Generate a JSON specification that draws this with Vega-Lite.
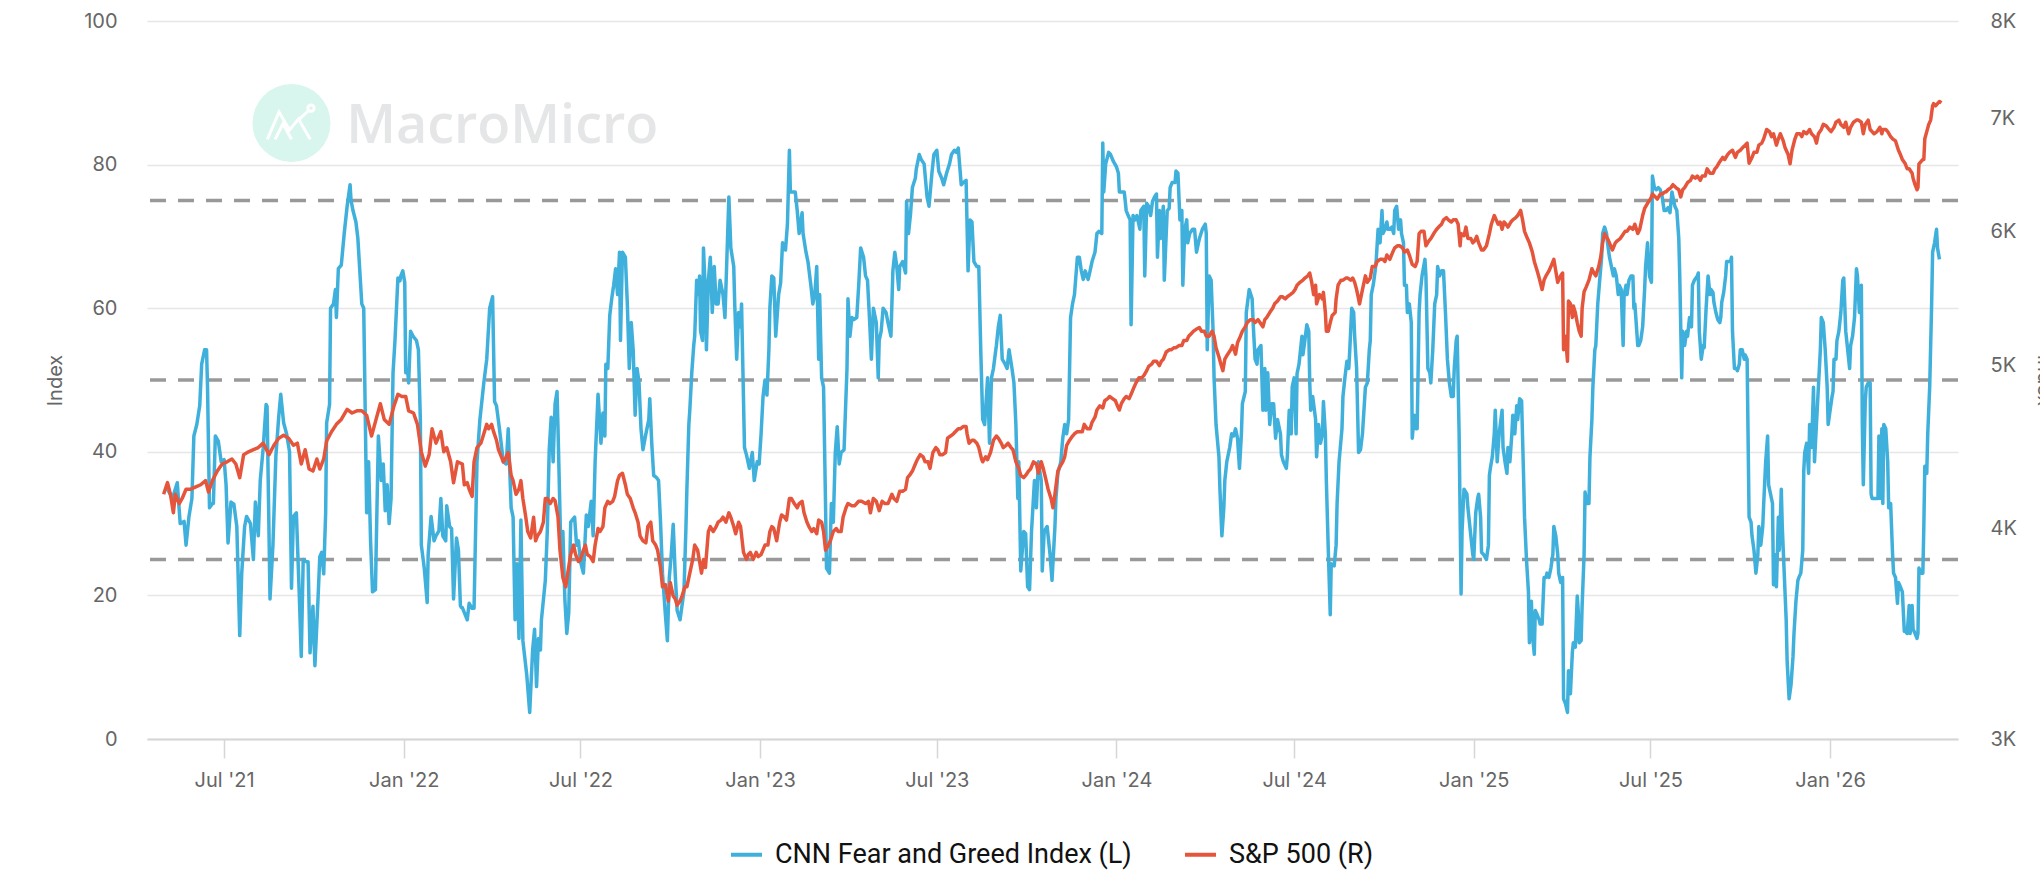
{
  "$schema": "https://vega.github.io/schema/vega-lite/v6.json",
  "width": 1811,
  "height": 718,
  "autosize": {"type": "none"},
  "padding": {"left": 147, "top": 21, "right": 82, "bottom": 135},
  "background": "white",
  "config": {
    "font": "Inter",
    "view": {"stroke": null}
  },
  "datasets": {
    "fg": [
      {"d":"2021-05-04","v":34.8},{"d":"2021-05-09","v":33.5},{"d":"2021-05-14","v":35.7},{"d":"2021-05-17","v":30.0},{"d":"2021-05-21","v":30.3},{"d":"2021-05-23","v":27.0},{"d":"2021-05-26","v":31.0},{"d":"2021-05-29","v":33.5},{"d":"2021-05-31","v":42.2},
      {"d":"2021-06-03","v":43.8},{"d":"2021-06-06","v":46.4},{"d":"2021-06-08","v":52.2},{"d":"2021-06-11","v":54.2},{"d":"2021-06-13","v":54.2},{"d":"2021-06-14","v":49.0},{"d":"2021-06-16","v":32.2},{"d":"2021-06-19","v":32.8},{"d":"2021-06-20","v":32.8},{"d":"2021-06-22","v":42.2},{"d":"2021-06-25","v":41.5},{"d":"2021-06-28","v":38.6},
      {"d":"2021-07-01","v":38.9},{"d":"2021-07-03","v":35.4},{"d":"2021-07-05","v":27.3},{"d":"2021-07-08","v":33.0},{"d":"2021-07-11","v":32.7},{"d":"2021-07-14","v":29.6},{"d":"2021-07-17","v":14.4},{"d":"2021-07-19","v":23.0},{"d":"2021-07-22","v":29.6},{"d":"2021-07-24","v":31.0},{"d":"2021-07-28","v":30.0},{"d":"2021-07-31","v":25.0},
      {"d":"2021-08-02","v":33.0},{"d":"2021-08-05","v":28.3},{"d":"2021-08-07","v":36.0},{"d":"2021-08-10","v":40.5},{"d":"2021-08-13","v":46.6},{"d":"2021-08-14","v":46.3},{"d":"2021-08-17","v":19.5},{"d":"2021-08-20","v":27.0},{"d":"2021-08-23","v":39.4},{"d":"2021-08-26","v":45.0},{"d":"2021-08-28","v":48.0},{"d":"2021-08-31","v":44.0},
      {"d":"2021-09-03","v":42.5},{"d":"2021-09-06","v":40.0},{"d":"2021-09-08","v":21.0},{"d":"2021-09-10","v":31.0},{"d":"2021-09-13","v":31.5},{"d":"2021-09-16","v":20.0},{"d":"2021-09-18","v":11.5},{"d":"2021-09-20","v":25.0},{"d":"2021-09-23","v":24.7},{"d":"2021-09-25","v":24.7},{"d":"2021-09-27","v":12.0},{"d":"2021-09-30","v":18.5},
      {"d":"2021-10-02","v":10.2},{"d":"2021-10-05","v":19.0},{"d":"2021-10-07","v":25.4},{"d":"2021-10-09","v":26.0},{"d":"2021-10-11","v":23.0},{"d":"2021-10-13","v":31.5},{"d":"2021-10-14","v":44.0},{"d":"2021-10-17","v":46.6},{"d":"2021-10-18","v":60.0},{"d":"2021-10-21","v":60.6},{"d":"2021-10-23","v":62.6},{"d":"2021-10-24","v":58.7},{"d":"2021-10-26","v":65.5},{"d":"2021-10-29","v":66.0},
      {"d":"2021-11-01","v":70.4},{"d":"2021-11-04","v":74.2},{"d":"2021-11-05","v":75.2},{"d":"2021-11-07","v":77.2},{"d":"2021-11-08","v":75.0},{"d":"2021-11-10","v":73.6},{"d":"2021-11-13","v":72.0},{"d":"2021-11-15","v":69.7},{"d":"2021-11-19","v":60.6},{"d":"2021-11-21","v":60.0},{"d":"2021-11-24","v":31.5},{"d":"2021-11-26","v":38.6},{"d":"2021-11-28","v":27.6},{"d":"2021-11-30","v":20.5},
      {"d":"2021-12-03","v":20.8},{"d":"2021-12-04","v":28.3},{"d":"2021-12-06","v":42.2},{"d":"2021-12-09","v":36.0},{"d":"2021-12-11","v":38.3},{"d":"2021-12-13","v":31.8},{"d":"2021-12-15","v":35.4},{"d":"2021-12-17","v":30.0},{"d":"2021-12-19","v":33.5},{"d":"2021-12-21","v":51.0},{"d":"2021-12-23","v":55.5},{"d":"2021-12-26","v":64.2},{"d":"2021-12-28","v":63.8},{"d":"2021-12-29","v":64.5},{"d":"2021-12-31","v":65.2},
      {"d":"2022-01-02","v":63.6},{"d":"2022-01-03","v":51.0},{"d":"2022-01-05","v":51.3},{"d":"2022-01-06","v":49.6},{"d":"2022-01-08","v":56.8},{"d":"2022-01-11","v":56.0},{"d":"2022-01-14","v":55.5},{"d":"2022-01-16","v":54.2},{"d":"2022-01-18","v":44.5},{"d":"2022-01-19","v":27.0},{"d":"2022-01-22","v":23.8},{"d":"2022-01-25","v":19.0},{"d":"2022-01-26","v":25.7},{"d":"2022-01-29","v":31.0},
      {"d":"2022-02-01","v":27.6},{"d":"2022-02-03","v":28.3},{"d":"2022-02-06","v":29.0},{"d":"2022-02-08","v":33.5},{"d":"2022-02-10","v":28.3},{"d":"2022-02-13","v":27.6},{"d":"2022-02-14","v":32.5},{"d":"2022-02-17","v":29.6},{"d":"2022-02-19","v":29.3},{"d":"2022-02-21","v":19.5},{"d":"2022-02-24","v":28.0},{"d":"2022-02-26","v":26.3},{"d":"2022-02-28","v":18.6},
      {"d":"2022-03-01","v":18.3},{"d":"2022-03-02","v":18.3},{"d":"2022-03-05","v":17.3},{"d":"2022-03-07","v":16.6},{"d":"2022-03-09","v":18.9},{"d":"2022-03-12","v":18.2},{"d":"2022-03-14","v":18.2},{"d":"2022-03-17","v":38.6},{"d":"2022-03-20","v":44.5},{"d":"2022-03-24","v":49.6},{"d":"2022-03-27","v":52.9},{"d":"2022-03-30","v":60.0},
      {"d":"2022-04-02","v":61.6},{"d":"2022-04-04","v":47.0},{"d":"2022-04-06","v":46.4},{"d":"2022-04-09","v":43.2},{"d":"2022-04-13","v":38.6},{"d":"2022-04-16","v":38.3},{"d":"2022-04-18","v":43.2},{"d":"2022-04-21","v":32.2},{"d":"2022-04-23","v":30.9},{"d":"2022-04-25","v":16.6},{"d":"2022-04-27","v":24.4},{"d":"2022-04-29","v":14.0},
      {"d":"2022-05-01","v":30.5},{"d":"2022-05-03","v":13.7},{"d":"2022-05-07","v":8.9},{"d":"2022-05-10","v":3.7},{"d":"2022-05-13","v":12.4},{"d":"2022-05-15","v":15.3},{"d":"2022-05-17","v":7.3},{"d":"2022-05-19","v":14.0},{"d":"2022-05-21","v":12.4},{"d":"2022-05-22","v":16.6},{"d":"2022-05-26","v":22.1},{"d":"2022-05-28","v":28.9},{"d":"2022-05-30","v":40.3},
      {"d":"2022-06-01","v":44.8},{"d":"2022-06-03","v":38.6},{"d":"2022-06-05","v":46.7},{"d":"2022-06-07","v":48.4},{"d":"2022-06-08","v":43.2},{"d":"2022-06-11","v":25.7},{"d":"2022-06-13","v":28.9},{"d":"2022-06-15","v":19.5},{"d":"2022-06-17","v":14.7},{"d":"2022-06-19","v":17.6},{"d":"2022-06-21","v":30.2},{"d":"2022-06-25","v":30.9},{"d":"2022-06-27","v":27.0},{"d":"2022-06-29","v":27.6},
      {"d":"2022-07-01","v":24.7},{"d":"2022-07-04","v":23.1},{"d":"2022-07-07","v":31.2},{"d":"2022-07-09","v":29.6},{"d":"2022-07-12","v":33.1},{"d":"2022-07-14","v":28.3},{"d":"2022-07-16","v":38.6},{"d":"2022-07-19","v":48.0},{"d":"2022-07-22","v":41.2},{"d":"2022-07-24","v":45.4},{"d":"2022-07-26","v":42.2},{"d":"2022-07-27","v":52.2},{"d":"2022-07-29","v":51.6},{"d":"2022-07-31","v":59.0},
      {"d":"2022-08-02","v":61.3},{"d":"2022-08-04","v":63.2},{"d":"2022-08-06","v":65.5},{"d":"2022-08-08","v":61.9},{"d":"2022-08-10","v":67.8},{"d":"2022-08-11","v":55.5},{"d":"2022-08-13","v":67.8},{"d":"2022-08-16","v":67.1},{"d":"2022-08-18","v":60.6},{"d":"2022-08-20","v":51.6},{"d":"2022-08-22","v":58.0},{"d":"2022-08-24","v":54.2},{"d":"2022-08-26","v":45.1},{"d":"2022-08-28","v":51.6},{"d":"2022-08-30","v":49.6},
      {"d":"2022-09-01","v":43.2},{"d":"2022-09-03","v":40.3},{"d":"2022-09-06","v":42.5},{"d":"2022-09-09","v":44.5},{"d":"2022-09-10","v":47.4},{"d":"2022-09-12","v":41.2},{"d":"2022-09-14","v":36.7},{"d":"2022-09-17","v":36.4},{"d":"2022-09-19","v":36.0},{"d":"2022-09-21","v":30.2},{"d":"2022-09-23","v":23.1},{"d":"2022-09-26","v":17.3},{"d":"2022-09-28","v":13.7},{"d":"2022-09-30","v":22.5},
      {"d":"2022-10-02","v":25.7},{"d":"2022-10-04","v":29.9},{"d":"2022-10-06","v":23.1},{"d":"2022-10-08","v":17.9},{"d":"2022-10-11","v":16.6},{"d":"2022-10-13","v":18.6},{"d":"2022-10-15","v":20.5},{"d":"2022-10-17","v":29.3},{"d":"2022-10-18","v":34.8},{"d":"2022-10-20","v":43.8},{"d":"2022-10-21","v":45.8},{"d":"2022-10-23","v":51.0},{"d":"2022-10-25","v":54.8},{"d":"2022-10-26","v":56.1},{"d":"2022-10-28","v":63.9},{"d":"2022-10-30","v":61.9},{"d":"2022-10-31","v":64.5},
      {"d":"2022-11-01","v":56.8},{"d":"2022-11-03","v":55.5},{"d":"2022-11-04","v":68.4},{"d":"2022-11-06","v":61.9},{"d":"2022-11-07","v":54.2},{"d":"2022-11-09","v":63.9},{"d":"2022-11-11","v":67.1},{"d":"2022-11-13","v":59.4},{"d":"2022-11-15","v":65.8},{"d":"2022-11-17","v":60.6},{"d":"2022-11-19","v":60.6},{"d":"2022-11-21","v":63.9},{"d":"2022-11-24","v":61.9},{"d":"2022-11-26","v":58.7},{"d":"2022-11-28","v":67.1},{"d":"2022-11-30","v":75.5},
      {"d":"2022-12-02","v":68.4},{"d":"2022-12-05","v":65.8},{"d":"2022-12-06","v":60.6},{"d":"2022-12-08","v":52.9},{"d":"2022-12-10","v":59.4},{"d":"2022-12-12","v":57.4},{"d":"2022-12-13","v":60.6},{"d":"2022-12-16","v":40.6},{"d":"2022-12-18","v":39.6},{"d":"2022-12-21","v":37.7},{"d":"2022-12-24","v":39.9},{"d":"2022-12-26","v":36.0},{"d":"2022-12-29","v":38.6},{"d":"2022-12-31","v":38.3},
      {"d":"2023-01-02","v":42.5},{"d":"2023-01-04","v":47.7},{"d":"2023-01-06","v":50.0},{"d":"2023-01-08","v":47.9},{"d":"2023-01-10","v":54.2},{"d":"2023-01-11","v":60.0},{"d":"2023-01-13","v":64.5},{"d":"2023-01-15","v":64.2},{"d":"2023-01-17","v":56.1},{"d":"2023-01-20","v":61.9},{"d":"2023-01-22","v":63.5},{"d":"2023-01-24","v":69.1},{"d":"2023-01-27","v":68.1},{"d":"2023-01-29","v":71.7},{"d":"2023-01-31","v":82.0},
      {"d":"2023-02-01","v":76.2},{"d":"2023-02-03","v":76.2},{"d":"2023-02-06","v":76.2},{"d":"2023-02-08","v":73.6},{"d":"2023-02-10","v":70.4},{"d":"2023-02-13","v":73.3},{"d":"2023-02-14","v":70.4},{"d":"2023-02-17","v":67.8},{"d":"2023-02-19","v":66.5},{"d":"2023-02-22","v":63.2},{"d":"2023-02-24","v":60.6},{"d":"2023-02-26","v":61.9},{"d":"2023-02-28","v":65.8},
      {"d":"2023-03-02","v":52.9},{"d":"2023-03-03","v":61.9},{"d":"2023-03-05","v":50.3},{"d":"2023-03-07","v":49.0},{"d":"2023-03-09","v":32.8},{"d":"2023-03-10","v":23.8},{"d":"2023-03-13","v":23.1},{"d":"2023-03-15","v":32.8},{"d":"2023-03-17","v":30.2},{"d":"2023-03-19","v":39.9},{"d":"2023-03-21","v":43.5},{"d":"2023-03-23","v":38.3},{"d":"2023-03-25","v":39.9},{"d":"2023-03-28","v":40.3},{"d":"2023-03-31","v":51.6},
      {"d":"2023-04-01","v":61.3},{"d":"2023-04-03","v":56.1},{"d":"2023-04-05","v":58.7},{"d":"2023-04-07","v":58.4},{"d":"2023-04-10","v":58.7},{"d":"2023-04-12","v":63.2},{"d":"2023-04-14","v":68.4},{"d":"2023-04-17","v":67.1},{"d":"2023-04-19","v":64.5},{"d":"2023-04-21","v":63.9},{"d":"2023-04-23","v":58.7},{"d":"2023-04-25","v":52.9},{"d":"2023-04-27","v":60.0},{"d":"2023-04-30","v":58.0},
      {"d":"2023-05-02","v":50.3},{"d":"2023-05-03","v":55.5},{"d":"2023-05-05","v":56.8},{"d":"2023-05-07","v":60.0},{"d":"2023-05-10","v":59.4},{"d":"2023-05-12","v":58.0},{"d":"2023-05-15","v":56.1},{"d":"2023-05-17","v":65.2},{"d":"2023-05-19","v":67.8},{"d":"2023-05-21","v":65.8},{"d":"2023-05-23","v":62.6},{"d":"2023-05-24","v":65.8},{"d":"2023-05-27","v":66.5},{"d":"2023-05-30","v":64.9},{"d":"2023-05-31","v":74.9},
      {"d":"2023-06-02","v":70.4},{"d":"2023-06-04","v":73.0},{"d":"2023-06-06","v":76.8},{"d":"2023-06-09","v":78.1},{"d":"2023-06-10","v":79.4},{"d":"2023-06-13","v":81.4},{"d":"2023-06-15","v":80.7},{"d":"2023-06-18","v":80.1},{"d":"2023-06-21","v":75.5},{"d":"2023-06-23","v":74.2},{"d":"2023-06-26","v":78.8},{"d":"2023-06-28","v":81.4},
      {"d":"2023-07-01","v":82.0},{"d":"2023-07-03","v":79.1},{"d":"2023-07-06","v":78.1},{"d":"2023-07-08","v":77.2},{"d":"2023-07-11","v":78.8},{"d":"2023-07-14","v":80.1},{"d":"2023-07-16","v":81.4},{"d":"2023-07-19","v":82.0},{"d":"2023-07-21","v":81.7},{"d":"2023-07-23","v":82.3},{"d":"2023-07-26","v":77.2},{"d":"2023-07-28","v":77.5},{"d":"2023-07-31","v":77.8},
      {"d":"2023-08-02","v":65.2},{"d":"2023-08-04","v":72.3},{"d":"2023-08-06","v":72.0},{"d":"2023-08-08","v":66.5},{"d":"2023-08-11","v":65.8},{"d":"2023-08-13","v":65.8},{"d":"2023-08-15","v":54.2},{"d":"2023-08-17","v":44.5},{"d":"2023-08-19","v":43.8},{"d":"2023-08-22","v":50.3},{"d":"2023-08-24","v":41.2},{"d":"2023-08-26","v":50.3},{"d":"2023-08-28","v":51.6},{"d":"2023-08-31","v":54.8},
      {"d":"2023-09-02","v":57.4},{"d":"2023-09-04","v":59.0},{"d":"2023-09-06","v":52.9},{"d":"2023-09-09","v":52.2},{"d":"2023-09-11","v":51.6},{"d":"2023-09-13","v":54.2},{"d":"2023-09-16","v":51.6},{"d":"2023-09-18","v":49.6},{"d":"2023-09-20","v":43.8},{"d":"2023-09-22","v":33.5},{"d":"2023-09-23","v":38.6},{"d":"2023-09-25","v":23.4},{"d":"2023-09-28","v":28.9},{"d":"2023-09-30","v":28.6},
      {"d":"2023-10-02","v":21.2},{"d":"2023-10-04","v":20.8},{"d":"2023-10-06","v":28.9},{"d":"2023-10-09","v":36.0},{"d":"2023-10-11","v":32.2},{"d":"2023-10-13","v":38.6},{"d":"2023-10-16","v":36.0},{"d":"2023-10-17","v":23.4},{"d":"2023-10-19","v":28.9},{"d":"2023-10-22","v":29.6},{"d":"2023-10-25","v":25.7},{"d":"2023-10-27","v":22.1},{"d":"2023-10-30","v":29.6},{"d":"2023-10-31","v":33.5},
      {"d":"2023-11-02","v":37.0},{"d":"2023-11-05","v":38.6},{"d":"2023-11-07","v":41.9},{"d":"2023-11-09","v":43.8},{"d":"2023-11-11","v":42.5},{"d":"2023-11-13","v":44.5},{"d":"2023-11-15","v":58.7},{"d":"2023-11-17","v":60.6},{"d":"2023-11-19","v":61.9},{"d":"2023-11-22","v":67.1},{"d":"2023-11-24","v":67.1},{"d":"2023-11-26","v":65.2},{"d":"2023-11-28","v":64.0},{"d":"2023-11-30","v":65.2},
      {"d":"2023-12-03","v":64.0},{"d":"2023-12-05","v":65.2},{"d":"2023-12-07","v":66.5},{"d":"2023-12-10","v":67.8},{"d":"2023-12-12","v":70.4},{"d":"2023-12-14","v":70.7},{"d":"2023-12-17","v":70.4},{"d":"2023-12-18","v":83.0},{"d":"2023-12-19","v":76.2},{"d":"2023-12-21","v":80.1},{"d":"2023-12-24","v":81.7},{"d":"2023-12-26","v":81.4},{"d":"2023-12-29","v":80.4},
      {"d":"2024-01-01","v":79.7},{"d":"2024-01-03","v":78.8},{"d":"2024-01-04","v":76.2},{"d":"2024-01-06","v":76.2},{"d":"2024-01-09","v":76.2},{"d":"2024-01-11","v":73.6},{"d":"2024-01-13","v":72.9},{"d":"2024-01-15","v":72.3},{"d":"2024-01-16","v":57.7},{"d":"2024-01-18","v":72.9},{"d":"2024-01-20","v":72.3},{"d":"2024-01-22","v":72.9},{"d":"2024-01-25","v":71.0},{"d":"2024-01-26","v":73.6},{"d":"2024-01-29","v":74.2},{"d":"2024-01-30","v":64.5},
      {"d":"2024-02-01","v":74.6},{"d":"2024-02-03","v":74.2},{"d":"2024-02-05","v":72.9},{"d":"2024-02-07","v":74.9},{"d":"2024-02-09","v":75.5},{"d":"2024-02-11","v":75.9},{"d":"2024-02-12","v":67.1},{"d":"2024-02-14","v":73.6},{"d":"2024-02-15","v":69.7},{"d":"2024-02-18","v":74.2},{"d":"2024-02-19","v":63.9},{"d":"2024-02-22","v":73.6},{"d":"2024-02-24","v":73.9},{"d":"2024-02-25","v":76.8},{"d":"2024-02-27","v":77.5},
      {"d":"2024-03-01","v":77.5},{"d":"2024-03-02","v":79.1},{"d":"2024-03-04","v":78.8},{"d":"2024-03-06","v":72.3},{"d":"2024-03-08","v":73.6},{"d":"2024-03-09","v":63.2},{"d":"2024-03-11","v":71.0},{"d":"2024-03-13","v":72.3},{"d":"2024-03-14","v":69.1},{"d":"2024-03-16","v":70.4},{"d":"2024-03-19","v":71.0},{"d":"2024-03-21","v":71.0},{"d":"2024-03-23","v":67.8},{"d":"2024-03-25","v":69.1},{"d":"2024-03-26","v":69.7},{"d":"2024-03-29","v":71.0},
      {"d":"2024-04-01","v":71.7},{"d":"2024-04-02","v":70.4},{"d":"2024-04-03","v":54.2},{"d":"2024-04-05","v":64.5},{"d":"2024-04-07","v":63.9},{"d":"2024-04-09","v":56.8},{"d":"2024-04-10","v":50.3},{"d":"2024-04-12","v":43.8},{"d":"2024-04-15","v":39.3},{"d":"2024-04-16","v":34.8},{"d":"2024-04-18","v":28.3},{"d":"2024-04-20","v":32.2},{"d":"2024-04-21","v":36.0},{"d":"2024-04-23","v":38.6},{"d":"2024-04-26","v":40.6},{"d":"2024-04-28","v":42.5},{"d":"2024-04-30","v":42.2},
      {"d":"2024-05-02","v":43.2},{"d":"2024-05-04","v":41.9},{"d":"2024-05-06","v":37.7},{"d":"2024-05-08","v":42.5},{"d":"2024-05-09","v":46.7},{"d":"2024-05-12","v":48.4},{"d":"2024-05-13","v":59.4},{"d":"2024-05-16","v":62.6},{"d":"2024-05-19","v":61.3},{"d":"2024-05-20","v":58.0},{"d":"2024-05-22","v":52.9},{"d":"2024-05-24","v":52.2},{"d":"2024-05-25","v":54.2},{"d":"2024-05-28","v":54.8},{"d":"2024-05-30","v":45.8},
      {"d":"2024-06-01","v":51.6},{"d":"2024-06-02","v":45.8},{"d":"2024-06-04","v":51.0},{"d":"2024-06-06","v":43.8},{"d":"2024-06-08","v":46.7},{"d":"2024-06-10","v":46.7},{"d":"2024-06-12","v":41.9},{"d":"2024-06-14","v":44.5},{"d":"2024-06-17","v":42.5},{"d":"2024-06-18","v":39.6},{"d":"2024-06-20","v":38.6},{"d":"2024-06-23","v":37.7},{"d":"2024-06-24","v":39.3},{"d":"2024-06-26","v":45.8},{"d":"2024-06-28","v":42.5},{"d":"2024-06-29","v":49.0},
      {"d":"2024-07-01","v":50.3},{"d":"2024-07-03","v":42.5},{"d":"2024-07-04","v":50.9},{"d":"2024-07-06","v":52.2},{"d":"2024-07-09","v":56.1},{"d":"2024-07-10","v":53.5},{"d":"2024-07-12","v":55.5},{"d":"2024-07-14","v":57.7},{"d":"2024-07-16","v":56.8},{"d":"2024-07-17","v":49.6},{"d":"2024-07-18","v":45.8},{"d":"2024-07-20","v":47.7},{"d":"2024-07-23","v":44.5},{"d":"2024-07-24","v":39.3},{"d":"2024-07-26","v":43.8},{"d":"2024-07-28","v":41.2},{"d":"2024-07-30","v":42.5},{"d":"2024-07-31","v":47.0},
      {"d":"2024-08-02","v":42.5},{"d":"2024-08-03","v":36.0},{"d":"2024-08-05","v":26.3},{"d":"2024-08-07","v":17.3},{"d":"2024-08-08","v":24.4},{"d":"2024-08-11","v":24.1},{"d":"2024-08-13","v":27.0},{"d":"2024-08-14","v":32.8},{"d":"2024-08-16","v":38.6},{"d":"2024-08-19","v":43.2},{"d":"2024-08-20","v":47.7},{"d":"2024-08-22","v":50.3},{"d":"2024-08-24","v":52.6},{"d":"2024-08-26","v":51.6},{"d":"2024-08-27","v":54.2},{"d":"2024-08-29","v":60.0},{"d":"2024-08-31","v":59.4},
      {"d":"2024-09-01","v":56.1},{"d":"2024-09-03","v":51.6},{"d":"2024-09-05","v":39.9},{"d":"2024-09-07","v":40.3},{"d":"2024-09-09","v":42.5},{"d":"2024-09-12","v":49.0},{"d":"2024-09-14","v":49.6},{"d":"2024-09-16","v":54.2},{"d":"2024-09-17","v":55.5},{"d":"2024-09-18","v":61.9},{"d":"2024-09-20","v":63.2},{"d":"2024-09-22","v":65.2},{"d":"2024-09-23","v":66.5},{"d":"2024-09-25","v":71.0},{"d":"2024-09-27","v":69.1},{"d":"2024-09-29","v":73.6},{"d":"2024-09-30","v":70.4},
      {"d":"2024-10-02","v":71.0},{"d":"2024-10-04","v":72.0},{"d":"2024-10-05","v":71.0},{"d":"2024-10-07","v":71.0},{"d":"2024-10-09","v":71.3},{"d":"2024-10-11","v":70.4},{"d":"2024-10-12","v":73.6},{"d":"2024-10-14","v":74.2},{"d":"2024-10-16","v":71.0},{"d":"2024-10-18","v":72.3},{"d":"2024-10-19","v":70.4},{"d":"2024-10-21","v":69.1},{"d":"2024-10-22","v":63.2},{"d":"2024-10-24","v":63.2},{"d":"2024-10-25","v":59.4},{"d":"2024-10-27","v":60.6},{"d":"2024-10-29","v":58.0},{"d":"2024-10-30","v":41.9},
      {"d":"2024-11-01","v":45.1},{"d":"2024-11-03","v":43.2},{"d":"2024-11-04","v":43.2},{"d":"2024-11-06","v":59.4},{"d":"2024-11-07","v":61.9},{"d":"2024-11-09","v":64.5},{"d":"2024-11-12","v":66.8},{"d":"2024-11-13","v":64.5},{"d":"2024-11-15","v":51.6},{"d":"2024-11-17","v":51.0},{"d":"2024-11-18","v":49.6},{"d":"2024-11-20","v":54.2},{"d":"2024-11-22","v":60.6},{"d":"2024-11-24","v":61.9},{"d":"2024-11-25","v":65.8},{"d":"2024-11-27","v":64.5},{"d":"2024-11-29","v":65.2},
      {"d":"2024-12-01","v":65.2},{"d":"2024-12-03","v":59.4},{"d":"2024-12-05","v":52.9},{"d":"2024-12-07","v":49.6},{"d":"2024-12-09","v":47.7},{"d":"2024-12-11","v":47.7},{"d":"2024-12-12","v":51.6},{"d":"2024-12-14","v":55.5},{"d":"2024-12-15","v":56.1},{"d":"2024-12-17","v":42.5},{"d":"2024-12-19","v":20.2},{"d":"2024-12-20","v":28.9},{"d":"2024-12-22","v":34.8},{"d":"2024-12-25","v":34.1},{"d":"2024-12-26","v":32.2},{"d":"2024-12-29","v":28.3},{"d":"2024-12-31","v":25.7},
      {"d":"2025-01-01","v":25.0},{"d":"2025-01-03","v":31.5},{"d":"2025-01-05","v":33.5},{"d":"2025-01-06","v":34.1},{"d":"2025-01-08","v":30.9},{"d":"2025-01-09","v":26.0},{"d":"2025-01-11","v":25.7},{"d":"2025-01-14","v":25.0},{"d":"2025-01-16","v":27.0},{"d":"2025-01-17","v":36.7},{"d":"2025-01-18","v":37.7},{"d":"2025-01-20","v":39.3},{"d":"2025-01-22","v":42.5},{"d":"2025-01-23","v":45.8},{"d":"2025-01-25","v":38.6},{"d":"2025-01-27","v":42.5},{"d":"2025-01-30","v":45.8},{"d":"2025-01-31","v":40.6},
      {"d":"2025-02-02","v":38.6},{"d":"2025-02-04","v":37.0},{"d":"2025-02-05","v":40.6},{"d":"2025-02-07","v":38.6},{"d":"2025-02-09","v":42.5},{"d":"2025-02-10","v":45.1},{"d":"2025-02-12","v":42.5},{"d":"2025-02-14","v":46.4},{"d":"2025-02-15","v":44.5},{"d":"2025-02-17","v":47.4},{"d":"2025-02-19","v":47.1},{"d":"2025-02-21","v":36.7},{"d":"2025-02-22","v":30.9},{"d":"2025-02-24","v":25.0},{"d":"2025-02-26","v":20.5},{"d":"2025-02-27","v":13.4},
      {"d":"2025-03-01","v":19.2},{"d":"2025-03-02","v":14.7},{"d":"2025-03-04","v":11.8},{"d":"2025-03-05","v":17.9},{"d":"2025-03-07","v":17.3},{"d":"2025-03-09","v":16.6},{"d":"2025-03-10","v":16.0},{"d":"2025-03-12","v":16.0},{"d":"2025-03-14","v":22.5},{"d":"2025-03-16","v":22.5},{"d":"2025-03-17","v":23.1},{"d":"2025-03-19","v":22.5},{"d":"2025-03-21","v":23.8},{"d":"2025-03-23","v":25.7},{"d":"2025-03-24","v":29.6},{"d":"2025-03-26","v":28.3},{"d":"2025-03-28","v":25.7},{"d":"2025-03-29","v":23.1},{"d":"2025-03-31","v":21.8},
      {"d":"2025-04-02","v":22.5},{"d":"2025-04-03","v":5.6},{"d":"2025-04-05","v":4.9},{"d":"2025-04-07","v":3.7},{"d":"2025-04-08","v":9.5},{"d":"2025-04-10","v":6.3},{"d":"2025-04-12","v":12.1},{"d":"2025-04-13","v":13.4},{"d":"2025-04-15","v":12.8},{"d":"2025-04-17","v":19.9},{"d":"2025-04-18","v":17.9},{"d":"2025-04-19","v":13.4},{"d":"2025-04-21","v":13.7},{"d":"2025-04-22","v":18.6},{"d":"2025-04-24","v":25.7},{"d":"2025-04-25","v":34.4},{"d":"2025-04-27","v":32.8},{"d":"2025-04-29","v":32.8},{"d":"2025-04-30","v":39.3},
      {"d":"2025-05-02","v":44.5},{"d":"2025-05-03","v":49.0},{"d":"2025-05-05","v":54.2},{"d":"2025-05-06","v":54.8},{"d":"2025-05-08","v":60.6},{"d":"2025-05-10","v":63.9},{"d":"2025-05-12","v":67.1},{"d":"2025-05-13","v":70.4},{"d":"2025-05-15","v":71.3},{"d":"2025-05-17","v":70.4},{"d":"2025-05-18","v":69.1},{"d":"2025-05-20","v":67.1},{"d":"2025-05-22","v":65.8},{"d":"2025-05-24","v":64.5},{"d":"2025-05-25","v":65.5},{"d":"2025-05-27","v":64.5},{"d":"2025-05-29","v":61.9},{"d":"2025-05-30","v":63.2},
      {"d":"2025-06-01","v":62.6},{"d":"2025-06-03","v":54.8},{"d":"2025-06-04","v":61.9},{"d":"2025-06-06","v":63.2},{"d":"2025-06-07","v":61.9},{"d":"2025-06-09","v":63.9},{"d":"2025-06-11","v":64.5},{"d":"2025-06-13","v":64.5},{"d":"2025-06-14","v":60.0},{"d":"2025-06-15","v":60.6},{"d":"2025-06-18","v":54.8},{"d":"2025-06-19","v":54.8},{"d":"2025-06-21","v":55.5},{"d":"2025-06-23","v":57.4},{"d":"2025-06-25","v":62.6},{"d":"2025-06-26","v":65.8},{"d":"2025-06-28","v":69.1},{"d":"2025-06-30","v":64.5},
      {"d":"2025-07-02","v":63.6},{"d":"2025-07-03","v":78.4},{"d":"2025-07-05","v":76.8},{"d":"2025-07-07","v":76.5},{"d":"2025-07-09","v":76.8},{"d":"2025-07-11","v":76.5},{"d":"2025-07-13","v":75.5},{"d":"2025-07-15","v":73.6},{"d":"2025-07-17","v":73.6},{"d":"2025-07-19","v":74.0},{"d":"2025-07-21","v":73.3},{"d":"2025-07-23","v":76.2},{"d":"2025-07-24","v":75.5},{"d":"2025-07-26","v":74.2},{"d":"2025-07-28","v":73.6},{"d":"2025-07-30","v":69.7},{"d":"2025-07-31","v":64.5},
      {"d":"2025-08-02","v":50.3},{"d":"2025-08-03","v":56.8},{"d":"2025-08-05","v":54.8},{"d":"2025-08-07","v":56.8},{"d":"2025-08-08","v":56.1},{"d":"2025-08-10","v":58.7},{"d":"2025-08-11","v":58.0},{"d":"2025-08-12","v":57.4},{"d":"2025-08-13","v":63.2},{"d":"2025-08-15","v":63.9},{"d":"2025-08-18","v":64.5},{"d":"2025-08-19","v":64.9},{"d":"2025-08-20","v":56.8},{"d":"2025-08-22","v":52.9},{"d":"2025-08-24","v":54.8},{"d":"2025-08-25","v":54.5},{"d":"2025-08-27","v":60.0},{"d":"2025-08-29","v":64.5},{"d":"2025-08-31","v":61.9},
      {"d":"2025-09-01","v":62.6},{"d":"2025-09-03","v":62.2},{"d":"2025-09-04","v":60.8},{"d":"2025-09-06","v":59.4},{"d":"2025-09-08","v":58.4},{"d":"2025-09-10","v":58.0},{"d":"2025-09-11","v":58.7},{"d":"2025-09-12","v":60.8},{"d":"2025-09-14","v":62.2},{"d":"2025-09-16","v":64.5},{"d":"2025-09-17","v":66.5},{"d":"2025-09-19","v":66.5},{"d":"2025-09-21","v":66.5},{"d":"2025-09-22","v":67.1},{"d":"2025-09-23","v":56.8},{"d":"2025-09-25","v":51.6},{"d":"2025-09-27","v":51.6},{"d":"2025-09-28","v":51.3},{"d":"2025-09-30","v":52.2},
      {"d":"2025-10-01","v":54.2},{"d":"2025-10-03","v":54.2},{"d":"2025-10-05","v":52.9},{"d":"2025-10-06","v":53.5},{"d":"2025-10-08","v":52.9},{"d":"2025-10-10","v":30.9},{"d":"2025-10-12","v":30.2},{"d":"2025-10-13","v":28.3},{"d":"2025-10-15","v":26.3},{"d":"2025-10-17","v":23.1},{"d":"2025-10-19","v":25.7},{"d":"2025-10-20","v":29.6},{"d":"2025-10-22","v":27.0},{"d":"2025-10-24","v":29.6},{"d":"2025-10-25","v":32.8},{"d":"2025-10-27","v":38.6},{"d":"2025-10-29","v":42.2},{"d":"2025-10-30","v":35.4},
      {"d":"2025-11-01","v":34.1},{"d":"2025-11-03","v":32.8},{"d":"2025-11-04","v":21.5},{"d":"2025-11-05","v":25.7},{"d":"2025-11-07","v":21.2},{"d":"2025-11-09","v":30.9},{"d":"2025-11-10","v":26.3},{"d":"2025-11-12","v":34.8},{"d":"2025-11-13","v":29.6},{"d":"2025-11-15","v":23.1},{"d":"2025-11-17","v":16.6},{"d":"2025-11-18","v":10.8},{"d":"2025-11-20","v":5.6},{"d":"2025-11-22","v":7.6},{"d":"2025-11-24","v":11.5},{"d":"2025-11-25","v":14.7},{"d":"2025-11-27","v":19.2},{"d":"2025-11-29","v":22.1},{"d":"2025-11-30","v":22.5},
      {"d":"2025-12-02","v":23.1},{"d":"2025-12-04","v":26.3},{"d":"2025-12-05","v":37.3},{"d":"2025-12-06","v":39.9},{"d":"2025-12-08","v":41.2},{"d":"2025-12-10","v":37.0},{"d":"2025-12-11","v":43.8},{"d":"2025-12-13","v":40.6},{"d":"2025-12-15","v":49.0},{"d":"2025-12-16","v":38.6},{"d":"2025-12-18","v":43.8},{"d":"2025-12-20","v":49.0},{"d":"2025-12-22","v":54.2},{"d":"2025-12-23","v":58.7},{"d":"2025-12-25","v":58.0},{"d":"2025-12-27","v":54.2},{"d":"2025-12-29","v":49.0},{"d":"2025-12-30","v":43.8},
      {"d":"2026-01-01","v":45.8},{"d":"2026-01-03","v":47.7},{"d":"2026-01-04","v":48.4},{"d":"2026-01-05","v":52.9},{"d":"2026-01-07","v":52.9},{"d":"2026-01-08","v":55.5},{"d":"2026-01-10","v":56.8},{"d":"2026-01-12","v":59.4},{"d":"2026-01-14","v":63.9},{"d":"2026-01-15","v":64.2},{"d":"2026-01-17","v":56.8},{"d":"2026-01-19","v":54.2},{"d":"2026-01-21","v":51.6},{"d":"2026-01-22","v":54.8},{"d":"2026-01-24","v":56.1},{"d":"2026-01-26","v":58.7},{"d":"2026-01-28","v":65.5},{"d":"2026-01-29","v":64.5},{"d":"2026-01-31","v":59.4},
      {"d":"2026-02-02","v":63.2},{"d":"2026-02-03","v":43.8},{"d":"2026-02-04","v":35.4},{"d":"2026-02-06","v":47.0},{"d":"2026-02-07","v":49.0},{"d":"2026-02-09","v":49.6},{"d":"2026-02-11","v":49.6},{"d":"2026-02-12","v":34.1},{"d":"2026-02-13","v":33.5},{"d":"2026-02-15","v":33.5},{"d":"2026-02-17","v":33.5},{"d":"2026-02-19","v":33.5},{"d":"2026-02-20","v":42.2},{"d":"2026-02-21","v":33.5},{"d":"2026-02-23","v":43.2},{"d":"2026-02-24","v":32.8},{"d":"2026-02-25","v":43.8},{"d":"2026-02-27","v":43.2},
      {"d":"2026-03-01","v":38.6},{"d":"2026-03-02","v":32.2},{"d":"2026-03-04","v":32.8},{"d":"2026-03-06","v":25.7},{"d":"2026-03-07","v":23.1},{"d":"2026-03-09","v":22.5},{"d":"2026-03-11","v":18.9},{"d":"2026-03-12","v":21.8},{"d":"2026-03-14","v":21.2},{"d":"2026-03-16","v":20.5},{"d":"2026-03-18","v":15.0},{"d":"2026-03-19","v":15.0},{"d":"2026-03-21","v":14.7},{"d":"2026-03-23","v":18.6},{"d":"2026-03-24","v":14.7},{"d":"2026-03-26","v":18.6},{"d":"2026-03-27","v":15.3},{"d":"2026-03-29","v":14.7},{"d":"2026-03-31","v":14.0},
      {"d":"2026-04-01","v":14.7},{"d":"2026-04-02","v":23.8},{"d":"2026-04-04","v":23.1},{"d":"2026-04-06","v":23.1},{"d":"2026-04-07","v":29.6},{"d":"2026-04-08","v":38.0},{"d":"2026-04-10","v":37.0},{"d":"2026-04-11","v":42.5},{"d":"2026-04-13","v":49.0},{"d":"2026-04-15","v":60.6},{"d":"2026-04-16","v":67.8},{"d":"2026-04-18","v":69.1},{"d":"2026-04-20","v":71.0},{"d":"2026-04-21","v":68.4},{"d":"2026-04-23","v":66.8}
    ],
    "sp": [
      {"d":"2021-04-30","v":4191},{"d":"2021-05-04","v":4258},{"d":"2021-05-07","v":4191},{"d":"2021-05-10","v":4086},{"d":"2021-05-12","v":4191},{"d":"2021-05-16","v":4138},{"d":"2021-05-19","v":4167},{"d":"2021-05-23","v":4220},{"d":"2021-05-28","v":4220},
      {"d":"2021-06-02","v":4233},{"d":"2021-06-07","v":4246},{"d":"2021-06-12","v":4270},{"d":"2021-06-15","v":4204},{"d":"2021-06-19","v":4270},{"d":"2021-06-24","v":4326},{"d":"2021-06-29","v":4368},
      {"d":"2021-07-04","v":4381},{"d":"2021-07-09","v":4398},{"d":"2021-07-13","v":4368},{"d":"2021-07-17","v":4287},{"d":"2021-07-21","v":4424},{"d":"2021-07-26","v":4441},{"d":"2021-07-31","v":4454},
      {"d":"2021-08-05","v":4467},{"d":"2021-08-10","v":4494},{"d":"2021-08-16","v":4424},{"d":"2021-08-21","v":4481},{"d":"2021-08-26","v":4525},{"d":"2021-08-31","v":4543},
      {"d":"2021-09-05","v":4525},{"d":"2021-09-10","v":4481},{"d":"2021-09-14","v":4494},{"d":"2021-09-18","v":4368},{"d":"2021-09-22","v":4454},{"d":"2021-09-26","v":4338},{"d":"2021-09-30","v":4326},
      {"d":"2021-10-04","v":4398},{"d":"2021-10-07","v":4338},{"d":"2021-10-11","v":4398},{"d":"2021-10-14","v":4507},{"d":"2021-10-19","v":4565},{"d":"2021-10-24","v":4611},{"d":"2021-10-29","v":4642},
      {"d":"2021-11-04","v":4706},{"d":"2021-11-09","v":4683},{"d":"2021-11-14","v":4697},{"d":"2021-11-19","v":4697},{"d":"2021-11-24","v":4669},{"d":"2021-11-29","v":4538},
      {"d":"2021-12-03","v":4628},{"d":"2021-12-08","v":4743},{"d":"2021-12-12","v":4642},{"d":"2021-12-17","v":4611},{"d":"2021-12-22","v":4729},{"d":"2021-12-26","v":4804},{"d":"2021-12-30","v":4790},
      {"d":"2022-01-03","v":4790},{"d":"2022-01-06","v":4697},{"d":"2022-01-11","v":4683},{"d":"2022-01-15","v":4611},{"d":"2022-01-19","v":4441},{"d":"2022-01-23","v":4355},{"d":"2022-01-27","v":4424},{"d":"2022-01-30","v":4583},
      {"d":"2022-02-03","v":4494},{"d":"2022-02-08","v":4565},{"d":"2022-02-11","v":4441},{"d":"2022-02-14","v":4467},{"d":"2022-02-18","v":4381},{"d":"2022-02-21","v":4258},{"d":"2022-02-25","v":4381},
      {"d":"2022-03-02","v":4368},{"d":"2022-03-04","v":4246},{"d":"2022-03-07","v":4258},{"d":"2022-03-09","v":4220},{"d":"2022-03-12","v":4179},{"d":"2022-03-14","v":4381},{"d":"2022-03-17","v":4467},{"d":"2022-03-21","v":4494},{"d":"2022-03-24","v":4552},{"d":"2022-03-27","v":4611},{"d":"2022-03-29","v":4583},
      {"d":"2022-04-01","v":4611},{"d":"2022-04-03","v":4565},{"d":"2022-04-06","v":4512},{"d":"2022-04-08","v":4454},{"d":"2022-04-11","v":4411},{"d":"2022-04-13","v":4381},{"d":"2022-04-16","v":4411},{"d":"2022-04-18","v":4437},{"d":"2022-04-21","v":4300},{"d":"2022-04-23","v":4270},{"d":"2022-04-26","v":4191},{"d":"2022-04-29","v":4220},
      {"d":"2022-05-01","v":4270},{"d":"2022-05-03","v":4167},{"d":"2022-05-06","v":4062},{"d":"2022-05-08","v":3983},{"d":"2022-05-11","v":3948},{"d":"2022-05-14","v":4062},{"d":"2022-05-16","v":3933},{"d":"2022-05-18","v":3960},{"d":"2022-05-21","v":3983},{"d":"2022-05-24","v":4034},{"d":"2022-05-26","v":4167},{"d":"2022-05-28","v":4167},{"d":"2022-05-31","v":4138},
      {"d":"2022-06-03","v":4167},{"d":"2022-06-05","v":4155},{"d":"2022-06-08","v":4062},{"d":"2022-06-10","v":3883},{"d":"2022-06-13","v":3740},{"d":"2022-06-16","v":3693},{"d":"2022-06-18","v":3763},{"d":"2022-06-21","v":3860},{"d":"2022-06-24","v":3910},{"d":"2022-06-26","v":3860},{"d":"2022-06-29","v":3823},
      {"d":"2022-07-01","v":3834},{"d":"2022-07-04","v":3883},{"d":"2022-07-06","v":3910},{"d":"2022-07-08","v":3860},{"d":"2022-07-11","v":3849},{"d":"2022-07-14","v":3823},{"d":"2022-07-16","v":3910},{"d":"2022-07-19","v":3999},{"d":"2022-07-21","v":3983},{"d":"2022-07-24","v":4010},{"d":"2022-07-26","v":4114},{"d":"2022-07-29","v":4151},{"d":"2022-07-31","v":4138},
      {"d":"2022-08-03","v":4151},{"d":"2022-08-05","v":4179},{"d":"2022-08-08","v":4270},{"d":"2022-08-10","v":4300},{"d":"2022-08-13","v":4313},{"d":"2022-08-16","v":4246},{"d":"2022-08-18","v":4191},{"d":"2022-08-21","v":4167},{"d":"2022-08-24","v":4114},{"d":"2022-08-26","v":4086},{"d":"2022-08-29","v":4034},{"d":"2022-08-31","v":3960},
      {"d":"2022-09-03","v":3933},{"d":"2022-09-06","v":3922},{"d":"2022-09-08","v":4010},{"d":"2022-09-11","v":4034},{"d":"2022-09-13","v":3933},{"d":"2022-09-16","v":3910},{"d":"2022-09-18","v":3883},{"d":"2022-09-21","v":3792},{"d":"2022-09-23","v":3693},{"d":"2022-09-26","v":3705},{"d":"2022-09-29","v":3622},
      {"d":"2022-10-01","v":3715},{"d":"2022-10-04","v":3647},{"d":"2022-10-06","v":3633},{"d":"2022-10-08","v":3601},{"d":"2022-10-11","v":3622},{"d":"2022-10-13","v":3647},{"d":"2022-10-16","v":3693},{"d":"2022-10-18","v":3693},{"d":"2022-10-21","v":3763},{"d":"2022-10-24","v":3834},{"d":"2022-10-26","v":3910},{"d":"2022-10-29","v":3883},{"d":"2022-10-31","v":3823},
      {"d":"2022-11-02","v":3763},{"d":"2022-11-04","v":3834},{"d":"2022-11-06","v":3792},{"d":"2022-11-09","v":3983},{"d":"2022-11-11","v":4010},{"d":"2022-11-14","v":3983},{"d":"2022-11-17","v":4010},{"d":"2022-11-19","v":4034},{"d":"2022-11-22","v":4046},{"d":"2022-11-24","v":4062},{"d":"2022-11-27","v":4034},{"d":"2022-11-30","v":4086},
      {"d":"2022-12-02","v":4062},{"d":"2022-12-05","v":4010},{"d":"2022-12-07","v":3971},{"d":"2022-12-10","v":4034},{"d":"2022-12-12","v":4010},{"d":"2022-12-15","v":3871},{"d":"2022-12-18","v":3834},{"d":"2022-12-20","v":3860},{"d":"2022-12-22","v":3871},{"d":"2022-12-25","v":3834},{"d":"2022-12-28","v":3871},{"d":"2022-12-30","v":3849},
      {"d":"2023-01-02","v":3860},{"d":"2023-01-06","v":3910},{"d":"2023-01-09","v":3910},{"d":"2023-01-11","v":3983},{"d":"2023-01-13","v":4010},{"d":"2023-01-15","v":3999},{"d":"2023-01-18","v":3933},{"d":"2023-01-21","v":4034},{"d":"2023-01-23","v":4074},{"d":"2023-01-26","v":4062},{"d":"2023-01-28","v":4046},{"d":"2023-01-31","v":4167},
      {"d":"2023-02-02","v":4167},{"d":"2023-02-05","v":4138},{"d":"2023-02-08","v":4114},{"d":"2023-02-10","v":4138},{"d":"2023-02-13","v":4151},{"d":"2023-02-15","v":4086},{"d":"2023-02-18","v":4034},{"d":"2023-02-20","v":4010},{"d":"2023-02-23","v":3983},{"d":"2023-02-25","v":3999},{"d":"2023-02-28","v":3971},
      {"d":"2023-03-02","v":4046},{"d":"2023-03-05","v":4034},{"d":"2023-03-07","v":3983},{"d":"2023-03-09","v":3883},{"d":"2023-03-12","v":3910},{"d":"2023-03-14","v":3933},{"d":"2023-03-17","v":3983},{"d":"2023-03-20","v":3999},{"d":"2023-03-22","v":3983},{"d":"2023-03-25","v":3983},{"d":"2023-03-27","v":4062},{"d":"2023-03-30","v":4114},
      {"d":"2023-04-01","v":4138},{"d":"2023-04-05","v":4126},{"d":"2023-04-08","v":4126},{"d":"2023-04-12","v":4151},{"d":"2023-04-15","v":4151},{"d":"2023-04-19","v":4138},{"d":"2023-04-22","v":4151},{"d":"2023-04-24","v":4086},{"d":"2023-04-27","v":4167},{"d":"2023-04-30","v":4151},
      {"d":"2023-05-03","v":4098},{"d":"2023-05-06","v":4151},{"d":"2023-05-09","v":4138},{"d":"2023-05-12","v":4138},{"d":"2023-05-16","v":4191},{"d":"2023-05-18","v":4167},{"d":"2023-05-21","v":4151},{"d":"2023-05-24","v":4208},{"d":"2023-05-27","v":4208},{"d":"2023-05-30","v":4220},
      {"d":"2023-06-01","v":4287},{"d":"2023-06-03","v":4300},{"d":"2023-06-06","v":4326},{"d":"2023-06-09","v":4368},{"d":"2023-06-11","v":4394},{"d":"2023-06-14","v":4424},{"d":"2023-06-17","v":4411},{"d":"2023-06-19","v":4381},{"d":"2023-06-22","v":4381},{"d":"2023-06-24","v":4342},{"d":"2023-06-27","v":4437},{"d":"2023-06-30","v":4467},
      {"d":"2023-07-02","v":4454},{"d":"2023-07-04","v":4424},{"d":"2023-07-07","v":4424},{"d":"2023-07-10","v":4437},{"d":"2023-07-12","v":4525},{"d":"2023-07-15","v":4538},{"d":"2023-07-18","v":4552},{"d":"2023-07-20","v":4565},{"d":"2023-07-23","v":4583},{"d":"2023-07-25","v":4583},{"d":"2023-07-28","v":4597},{"d":"2023-07-31","v":4597},
      {"d":"2023-08-01","v":4552},{"d":"2023-08-03","v":4494},{"d":"2023-08-06","v":4512},{"d":"2023-08-08","v":4512},{"d":"2023-08-11","v":4494},{"d":"2023-08-13","v":4467},{"d":"2023-08-16","v":4394},{"d":"2023-08-17","v":4381},{"d":"2023-08-20","v":4411},{"d":"2023-08-22","v":4394},{"d":"2023-08-25","v":4437},{"d":"2023-08-28","v":4512},{"d":"2023-08-31","v":4538},
      {"d":"2023-09-02","v":4525},{"d":"2023-09-05","v":4494},{"d":"2023-09-07","v":4467},{"d":"2023-09-10","v":4481},{"d":"2023-09-12","v":4494},{"d":"2023-09-15","v":4467},{"d":"2023-09-17","v":4454},{"d":"2023-09-20","v":4381},{"d":"2023-09-23","v":4342},{"d":"2023-09-25","v":4300},{"d":"2023-09-28","v":4287},{"d":"2023-09-30","v":4300},
      {"d":"2023-10-03","v":4326},{"d":"2023-10-05","v":4338},{"d":"2023-10-08","v":4381},{"d":"2023-10-11","v":4368},{"d":"2023-10-13","v":4313},{"d":"2023-10-16","v":4381},{"d":"2023-10-18","v":4342},{"d":"2023-10-21","v":4270},{"d":"2023-10-23","v":4220},{"d":"2023-10-26","v":4167},{"d":"2023-10-28","v":4114},{"d":"2023-10-30","v":4191},
      {"d":"2023-11-02","v":4326},{"d":"2023-11-04","v":4351},{"d":"2023-11-07","v":4381},{"d":"2023-11-09","v":4411},{"d":"2023-11-11","v":4481},{"d":"2023-11-14","v":4512},{"d":"2023-11-17","v":4538},{"d":"2023-11-19","v":4552},{"d":"2023-11-22","v":4565},{"d":"2023-11-24","v":4565},{"d":"2023-11-27","v":4565},{"d":"2023-11-29","v":4611},
      {"d":"2023-12-02","v":4583},{"d":"2023-12-05","v":4583},{"d":"2023-12-07","v":4624},{"d":"2023-12-10","v":4656},{"d":"2023-12-12","v":4702},{"d":"2023-12-15","v":4729},{"d":"2023-12-18","v":4715},{"d":"2023-12-20","v":4762},{"d":"2023-12-23","v":4776},{"d":"2023-12-25","v":4790},{"d":"2023-12-28","v":4776},{"d":"2023-12-31","v":4762},
      {"d":"2024-01-02","v":4729},{"d":"2024-01-04","v":4702},{"d":"2024-01-06","v":4743},{"d":"2024-01-09","v":4776},{"d":"2024-01-11","v":4790},{"d":"2024-01-14","v":4776},{"d":"2024-01-16","v":4804},{"d":"2024-01-19","v":4851},{"d":"2024-01-21","v":4880},{"d":"2024-01-24","v":4914},{"d":"2024-01-27","v":4914},{"d":"2024-01-29","v":4928},
      {"d":"2024-02-01","v":4962},{"d":"2024-02-03","v":4991},{"d":"2024-02-06","v":5006},{"d":"2024-02-08","v":5026},{"d":"2024-02-11","v":5026},{"d":"2024-02-14","v":4996},{"d":"2024-02-16","v":5026},{"d":"2024-02-18","v":5040},{"d":"2024-02-21","v":5090},{"d":"2024-02-24","v":5105},{"d":"2024-02-26","v":5105},{"d":"2024-02-29","v":5120},
      {"d":"2024-03-02","v":5120},{"d":"2024-03-05","v":5135},{"d":"2024-03-08","v":5135},{"d":"2024-03-10","v":5171},{"d":"2024-03-13","v":5171},{"d":"2024-03-15","v":5201},{"d":"2024-03-18","v":5222},{"d":"2024-03-20","v":5237},{"d":"2024-03-23","v":5252},{"d":"2024-03-26","v":5263},{"d":"2024-03-28","v":5237},{"d":"2024-03-31","v":5237},
      {"d":"2024-04-02","v":5201},{"d":"2024-04-05","v":5201},{"d":"2024-04-08","v":5237},{"d":"2024-04-10","v":5201},{"d":"2024-04-12","v":5120},{"d":"2024-04-15","v":5055},{"d":"2024-04-17","v":5006},{"d":"2024-04-19","v":4962},{"d":"2024-04-21","v":5040},{"d":"2024-04-24","v":5075},{"d":"2024-04-27","v":5105},{"d":"2024-04-29","v":5135},
      {"d":"2024-05-02","v":5075},{"d":"2024-05-04","v":5155},{"d":"2024-05-07","v":5201},{"d":"2024-05-09","v":5237},{"d":"2024-05-12","v":5268},{"d":"2024-05-14","v":5299},{"d":"2024-05-17","v":5320},{"d":"2024-05-20","v":5320},{"d":"2024-05-22","v":5299},{"d":"2024-05-25","v":5320},{"d":"2024-05-27","v":5299},{"d":"2024-05-30","v":5268},
      {"d":"2024-06-01","v":5320},{"d":"2024-06-03","v":5336},{"d":"2024-06-06","v":5372},{"d":"2024-06-09","v":5404},{"d":"2024-06-11","v":5436},{"d":"2024-06-14","v":5457},{"d":"2024-06-17","v":5489},{"d":"2024-06-19","v":5489},{"d":"2024-06-22","v":5473},{"d":"2024-06-24","v":5489},{"d":"2024-06-27","v":5505},{"d":"2024-06-30","v":5522},
      {"d":"2024-07-02","v":5543},{"d":"2024-07-04","v":5576},{"d":"2024-07-07","v":5598},{"d":"2024-07-10","v":5615},{"d":"2024-07-12","v":5631},{"d":"2024-07-15","v":5648},{"d":"2024-07-17","v":5670},{"d":"2024-07-19","v":5598},{"d":"2024-07-21","v":5505},{"d":"2024-07-23","v":5576},{"d":"2024-07-24","v":5436},{"d":"2024-07-27","v":5505},{"d":"2024-07-30","v":5473},{"d":"2024-07-31","v":5522},
      {"d":"2024-08-02","v":5372},{"d":"2024-08-03","v":5237},{"d":"2024-08-05","v":5237},{"d":"2024-08-07","v":5299},{"d":"2024-08-09","v":5351},{"d":"2024-08-12","v":5372},{"d":"2024-08-13","v":5473},{"d":"2024-08-15","v":5576},{"d":"2024-08-18","v":5615},{"d":"2024-08-20","v":5615},{"d":"2024-08-23","v":5631},{"d":"2024-08-25","v":5631},{"d":"2024-08-28","v":5615},{"d":"2024-08-30","v":5631},
      {"d":"2024-09-01","v":5598},{"d":"2024-09-03","v":5543},{"d":"2024-09-05","v":5473},{"d":"2024-09-06","v":5436},{"d":"2024-09-09","v":5543},{"d":"2024-09-12","v":5648},{"d":"2024-09-14","v":5598},{"d":"2024-09-17","v":5631},{"d":"2024-09-19","v":5720},{"d":"2024-09-22","v":5720},{"d":"2024-09-24","v":5760},{"d":"2024-09-27","v":5777},{"d":"2024-09-30","v":5777},
      {"d":"2024-10-02","v":5760},{"d":"2024-10-04","v":5811},{"d":"2024-10-07","v":5777},{"d":"2024-10-10","v":5834},{"d":"2024-10-12","v":5868},{"d":"2024-10-15","v":5885},{"d":"2024-10-17","v":5885},{"d":"2024-10-20","v":5868},{"d":"2024-10-22","v":5834},{"d":"2024-10-25","v":5851},{"d":"2024-10-27","v":5811},{"d":"2024-10-30","v":5737},
      {"d":"2024-11-02","v":5720},{"d":"2024-11-04","v":5760},{"d":"2024-11-06","v":5984},{"d":"2024-11-08","v":6002},{"d":"2024-11-11","v":6002},{"d":"2024-11-13","v":5885},{"d":"2024-11-16","v":5925},{"d":"2024-11-18","v":5943},{"d":"2024-11-21","v":5984},{"d":"2024-11-24","v":6019},{"d":"2024-11-26","v":6037},{"d":"2024-11-29","v":6061},
      {"d":"2024-12-01","v":6097},{"d":"2024-12-04","v":6115},{"d":"2024-12-06","v":6097},{"d":"2024-12-09","v":6079},{"d":"2024-12-11","v":6097},{"d":"2024-12-14","v":6097},{"d":"2024-12-16","v":6061},{"d":"2024-12-18","v":5885},{"d":"2024-12-19","v":5984},{"d":"2024-12-22","v":5966},{"d":"2024-12-24","v":6037},{"d":"2024-12-26","v":5943},{"d":"2024-12-29","v":5943},{"d":"2024-12-31","v":5908},
      {"d":"2025-01-02","v":5925},{"d":"2025-01-04","v":5961},{"d":"2025-01-06","v":5908},{"d":"2025-01-09","v":5851},{"d":"2025-01-11","v":5851},{"d":"2025-01-14","v":5885},{"d":"2025-01-17","v":5984},{"d":"2025-01-19","v":6061},{"d":"2025-01-22","v":6133},{"d":"2025-01-24","v":6097},{"d":"2025-01-26","v":6061},{"d":"2025-01-28","v":6079},{"d":"2025-01-30","v":6019},
      {"d":"2025-02-01","v":6079},{"d":"2025-02-03","v":6061},{"d":"2025-02-05","v":6037},{"d":"2025-02-08","v":6079},{"d":"2025-02-10","v":6097},{"d":"2025-02-13","v":6115},{"d":"2025-02-15","v":6133},{"d":"2025-02-18","v":6176},{"d":"2025-02-20","v":6097},{"d":"2025-02-22","v":6002},{"d":"2025-02-25","v":5943},{"d":"2025-02-27","v":5908},
      {"d":"2025-03-02","v":5834},{"d":"2025-03-04","v":5760},{"d":"2025-03-07","v":5686},{"d":"2025-03-09","v":5631},{"d":"2025-03-12","v":5543},{"d":"2025-03-14","v":5615},{"d":"2025-03-16","v":5648},{"d":"2025-03-19","v":5686},{"d":"2025-03-21","v":5720},{"d":"2025-03-24","v":5777},{"d":"2025-03-26","v":5686},{"d":"2025-03-28","v":5598},{"d":"2025-03-31","v":5648},
      {"d":"2025-04-02","v":5670},{"d":"2025-04-03","v":5105},{"d":"2025-04-05","v":5201},{"d":"2025-04-07","v":5026},{"d":"2025-04-08","v":5457},{"d":"2025-04-10","v":5436},{"d":"2025-04-12","v":5336},{"d":"2025-04-13","v":5420},{"d":"2025-04-15","v":5372},{"d":"2025-04-17","v":5299},{"d":"2025-04-19","v":5237},{"d":"2025-04-21","v":5201},{"d":"2025-04-22","v":5404},{"d":"2025-04-24","v":5527},{"d":"2025-04-26","v":5560},{"d":"2025-04-29","v":5615},
      {"d":"2025-05-02","v":5703},{"d":"2025-05-04","v":5670},{"d":"2025-05-06","v":5648},{"d":"2025-05-09","v":5720},{"d":"2025-05-11","v":5794},{"d":"2025-05-13","v":5908},{"d":"2025-05-15","v":5984},{"d":"2025-05-18","v":5943},{"d":"2025-05-20","v":5908},{"d":"2025-05-23","v":5851},{"d":"2025-05-26","v":5908},{"d":"2025-05-28","v":5925},{"d":"2025-05-31","v":5943},
      {"d":"2025-06-02","v":5966},{"d":"2025-06-05","v":6002},{"d":"2025-06-07","v":6002},{"d":"2025-06-10","v":6037},{"d":"2025-06-13","v":6019},{"d":"2025-06-15","v":6061},{"d":"2025-06-18","v":5984},{"d":"2025-06-20","v":6019},{"d":"2025-06-23","v":6133},{"d":"2025-06-25","v":6193},{"d":"2025-06-28","v":6236},
      {"d":"2025-07-01","v":6273},{"d":"2025-07-03","v":6316},{"d":"2025-07-06","v":6291},{"d":"2025-07-08","v":6273},{"d":"2025-07-11","v":6316},{"d":"2025-07-13","v":6316},{"d":"2025-07-16","v":6335},{"d":"2025-07-17","v":6335},{"d":"2025-07-19","v":6353},{"d":"2025-07-22","v":6372},{"d":"2025-07-24","v":6397},{"d":"2025-07-27","v":6372},{"d":"2025-07-30","v":6353},
      {"d":"2025-08-01","v":6291},{"d":"2025-08-03","v":6353},{"d":"2025-08-05","v":6372},{"d":"2025-08-08","v":6416},{"d":"2025-08-11","v":6435},{"d":"2025-08-13","v":6473},{"d":"2025-08-16","v":6454},{"d":"2025-08-18","v":6473},{"d":"2025-08-21","v":6435},{"d":"2025-08-23","v":6473},{"d":"2025-08-26","v":6473},{"d":"2025-08-28","v":6537},{"d":"2025-08-31","v":6498},
      {"d":"2025-09-03","v":6498},{"d":"2025-09-05","v":6537},{"d":"2025-09-07","v":6556},{"d":"2025-09-10","v":6601},{"d":"2025-09-13","v":6640},{"d":"2025-09-15","v":6621},{"d":"2025-09-18","v":6666},{"d":"2025-09-20","v":6686},{"d":"2025-09-23","v":6705},{"d":"2025-09-26","v":6640},{"d":"2025-09-28","v":6686},
      {"d":"2025-10-01","v":6705},{"d":"2025-10-03","v":6725},{"d":"2025-10-06","v":6752},{"d":"2025-10-08","v":6771},{"d":"2025-10-10","v":6588},{"d":"2025-10-13","v":6640},{"d":"2025-10-15","v":6686},{"d":"2025-10-18","v":6686},{"d":"2025-10-20","v":6752},{"d":"2025-10-23","v":6771},{"d":"2025-10-25","v":6811},{"d":"2025-10-28","v":6898},{"d":"2025-10-31","v":6878},
      {"d":"2025-11-02","v":6831},{"d":"2025-11-04","v":6858},{"d":"2025-11-07","v":6752},{"d":"2025-11-09","v":6811},{"d":"2025-11-11","v":6858},{"d":"2025-11-14","v":6791},{"d":"2025-11-16","v":6725},{"d":"2025-11-19","v":6666},{"d":"2025-11-21","v":6582},{"d":"2025-11-23","v":6705},{"d":"2025-11-26","v":6811},{"d":"2025-11-28","v":6858},
      {"d":"2025-12-01","v":6858},{"d":"2025-12-03","v":6831},{"d":"2025-12-05","v":6878},{"d":"2025-12-08","v":6858},{"d":"2025-12-11","v":6898},{"d":"2025-12-13","v":6858},{"d":"2025-12-16","v":6831},{"d":"2025-12-18","v":6771},{"d":"2025-12-20","v":6858},{"d":"2025-12-23","v":6898},{"d":"2025-12-25","v":6946},{"d":"2025-12-28","v":6932},{"d":"2025-12-31","v":6898},
      {"d":"2026-01-02","v":6878},{"d":"2026-01-05","v":6919},{"d":"2026-01-07","v":6967},{"d":"2026-01-10","v":6987},{"d":"2026-01-12","v":6946},{"d":"2026-01-15","v":6919},{"d":"2026-01-17","v":6967},{"d":"2026-01-20","v":6858},{"d":"2026-01-22","v":6919},{"d":"2026-01-25","v":6967},{"d":"2026-01-28","v":6987},{"d":"2026-01-30","v":6987},
      {"d":"2026-02-02","v":6967},{"d":"2026-02-04","v":6858},{"d":"2026-02-06","v":6946},{"d":"2026-02-09","v":6987},{"d":"2026-02-11","v":6898},{"d":"2026-02-13","v":6878},{"d":"2026-02-15","v":6858},{"d":"2026-02-18","v":6878},{"d":"2026-02-21","v":6919},{"d":"2026-02-23","v":6858},{"d":"2026-02-24","v":6898},{"d":"2026-02-27","v":6898},
      {"d":"2026-03-01","v":6878},{"d":"2026-03-04","v":6831},{"d":"2026-03-06","v":6811},{"d":"2026-03-09","v":6791},{"d":"2026-03-12","v":6705},{"d":"2026-03-14","v":6666},{"d":"2026-03-16","v":6621},{"d":"2026-03-19","v":6582},{"d":"2026-03-21","v":6537},{"d":"2026-03-23","v":6537},{"d":"2026-03-26","v":6498},{"d":"2026-03-27","v":6454},{"d":"2026-03-29","v":6397},{"d":"2026-03-31","v":6353},
      {"d":"2026-04-01","v":6372},{"d":"2026-04-02","v":6582},{"d":"2026-04-04","v":6601},{"d":"2026-04-06","v":6621},{"d":"2026-04-07","v":6621},{"d":"2026-04-08","v":6811},{"d":"2026-04-10","v":6878},{"d":"2026-04-12","v":6946},{"d":"2026-04-14","v":6987},{"d":"2026-04-16","v":7125},{"d":"2026-04-17","v":7146},{"d":"2026-04-19","v":7125},{"d":"2026-04-21","v":7146},{"d":"2026-04-23","v":7167},{"d":"2026-04-25","v":7153}
    ]
  },
  "layer": [
    {
      "encoding": {
        "y": {
          "field": "v",
          "type": "quantitative",
          "scale": {"domain": [0, 100], "nice": false, "zero": false},
          "axis": {
            "orient": "left",
            "values": [0, 20, 40, 60, 80, 100],
            "title": "Index",
            "titleFontSize": 20,
            "titleFontWeight": "normal",
            "titleColor": "#666666",
            "titlePadding": 18,
            "labelFontSize": 20,
            "labelColor": "#666666",
            "labelPadding": 30,
            "domain": false,
            "ticks": false,
            "grid": true,
            "gridColor": "#e6e6e6",
            "gridWidth": 1.5
          }
        }
      },
      "layer": [
        {
          "data": {"values": [{"d": "2021-09-08", "v": 85.8}]},
          "mark": {"type": "point", "shape": "circle", "filled": true, "size": 6084, "color": "#d8f6ee", "opacity": 1},
          "encoding": {
            "x": {"field": "d", "type": "temporal", "scale": {"domain": [{"year": 2021, "month": 4, "date": 13, "utc": true}, {"year": 2026, "month": 5, "date": 12, "utc": true}]}}
          }
        },
        {
          "data": {"values": [{"d": "2021-09-08", "v": 85.8}]},
          "mark": {"type": "point", "filled": false, "size": 6084, "stroke": "white", "strokeWidth": 3, "opacity": 1,
            "shape": "M-0.62,0.42L-0.32,-0.28L-0.05,0.18L0.18,-0.1L0.48,0.42M-0.42,0.42L-0.22,0.02L0,0.42M0.2,-0.1L0.42,-0.3M0.42,-0.38a0.08,0.08 0 1,0 0.16,0a0.08,0.08 0 1,0 -0.16,0"},
          "encoding": {
            "x": {"field": "d", "type": "temporal"}
          }
        },
        {
          "data": {"values": [{"d": "2021-11-03", "v": 83.0, "t": "MacroMicro"}]},
          "mark": {"type": "text", "align": "left", "baseline": "alphabetic", "font": "Open Sans", "fontSize": 54, "fontWeight": 600, "color": "#e5e6e8"},
          "encoding": {
            "x": {"field": "d", "type": "temporal"},
            "text": {"field": "t"}
          }
        },
        {
          "data": {"values": [{"v": 25}, {"v": 50}, {"v": 75}]},
          "mark": {"type": "rule", "color": "#999999", "strokeWidth": 3.5, "strokeDash": [16, 12]}
        },
        {
          "data": {"name": "fg"},
          "mark": {"type": "line", "strokeWidth": 3.5, "strokeJoin": "round"},
          "encoding": {
            "x": {
              "field": "d",
              "type": "temporal",
              "axis": {
                "title": null,
                "format": "%b '%y",
                "tickCount": {"interval": "month", "step": 6},
                "labelFontSize": 20,
                "labelColor": "#666666",
                "labelPadding": 12,
                "labelFlush": false,
                "tickSize": 19,
                "tickColor": "#d6d6d6",
                "tickWidth": 1.5,
                "domainColor": "#d6d6d6",
                "domainWidth": 2,
                "grid": false
              }
            },
            "color": {
              "datum": "CNN Fear and Greed Index (L)",
              "type": "nominal",
              "scale": {"domain": ["CNN Fear and Greed Index (L)", "S&P 500 (R)"], "range": ["#3fb0db", "#e5553b"]},
              "legend": {
                "title": null,
                "orient": "none",
                "legendX": 582,
                "legendY": 816,
                "direction": "horizontal",
                "symbolType": "stroke",
                "symbolStrokeWidth": 4,
                "symbolSize": 961,
                "labelFont": "Roboto",
                "labelFontSize": 27,
                "labelColor": "#111111",
                "labelOffset": 11,
                "columnPadding": 45,
                "labelLimit": 600
              }
            }
          }
        }
      ]
    },
    {
      "data": {"name": "sp"},
      "mark": {"type": "line", "strokeWidth": 3.5, "strokeJoin": "round"},
      "encoding": {
        "x": {"field": "d", "type": "temporal"},
        "y": {
          "field": "v",
          "type": "quantitative",
          "scale": {"type": "log", "domain": [3000, 8000], "nice": false, "zero": false},
          "axis": {
            "orient": "right",
            "values": [3000, 4000, 5000, 6000, 7000, 8000],
            "labelExpr": "datum.value / 1000 + 'K'",
            "title": "Index",
            "titleFontSize": 20,
            "titleFontWeight": "normal",
            "titleColor": "#666666",
            "titlePadding": 17,
            "labelFontSize": 20,
            "labelColor": "#666666",
            "labelPadding": 32,
            "domain": false,
            "ticks": false,
            "grid": false
          }
        },
        "color": {
          "datum": "S&P 500 (R)",
          "type": "nominal"
        }
      }
    }
  ],
  "resolve": {"scale": {"y": "independent"}, "axis": {"y": "independent"}}
}
